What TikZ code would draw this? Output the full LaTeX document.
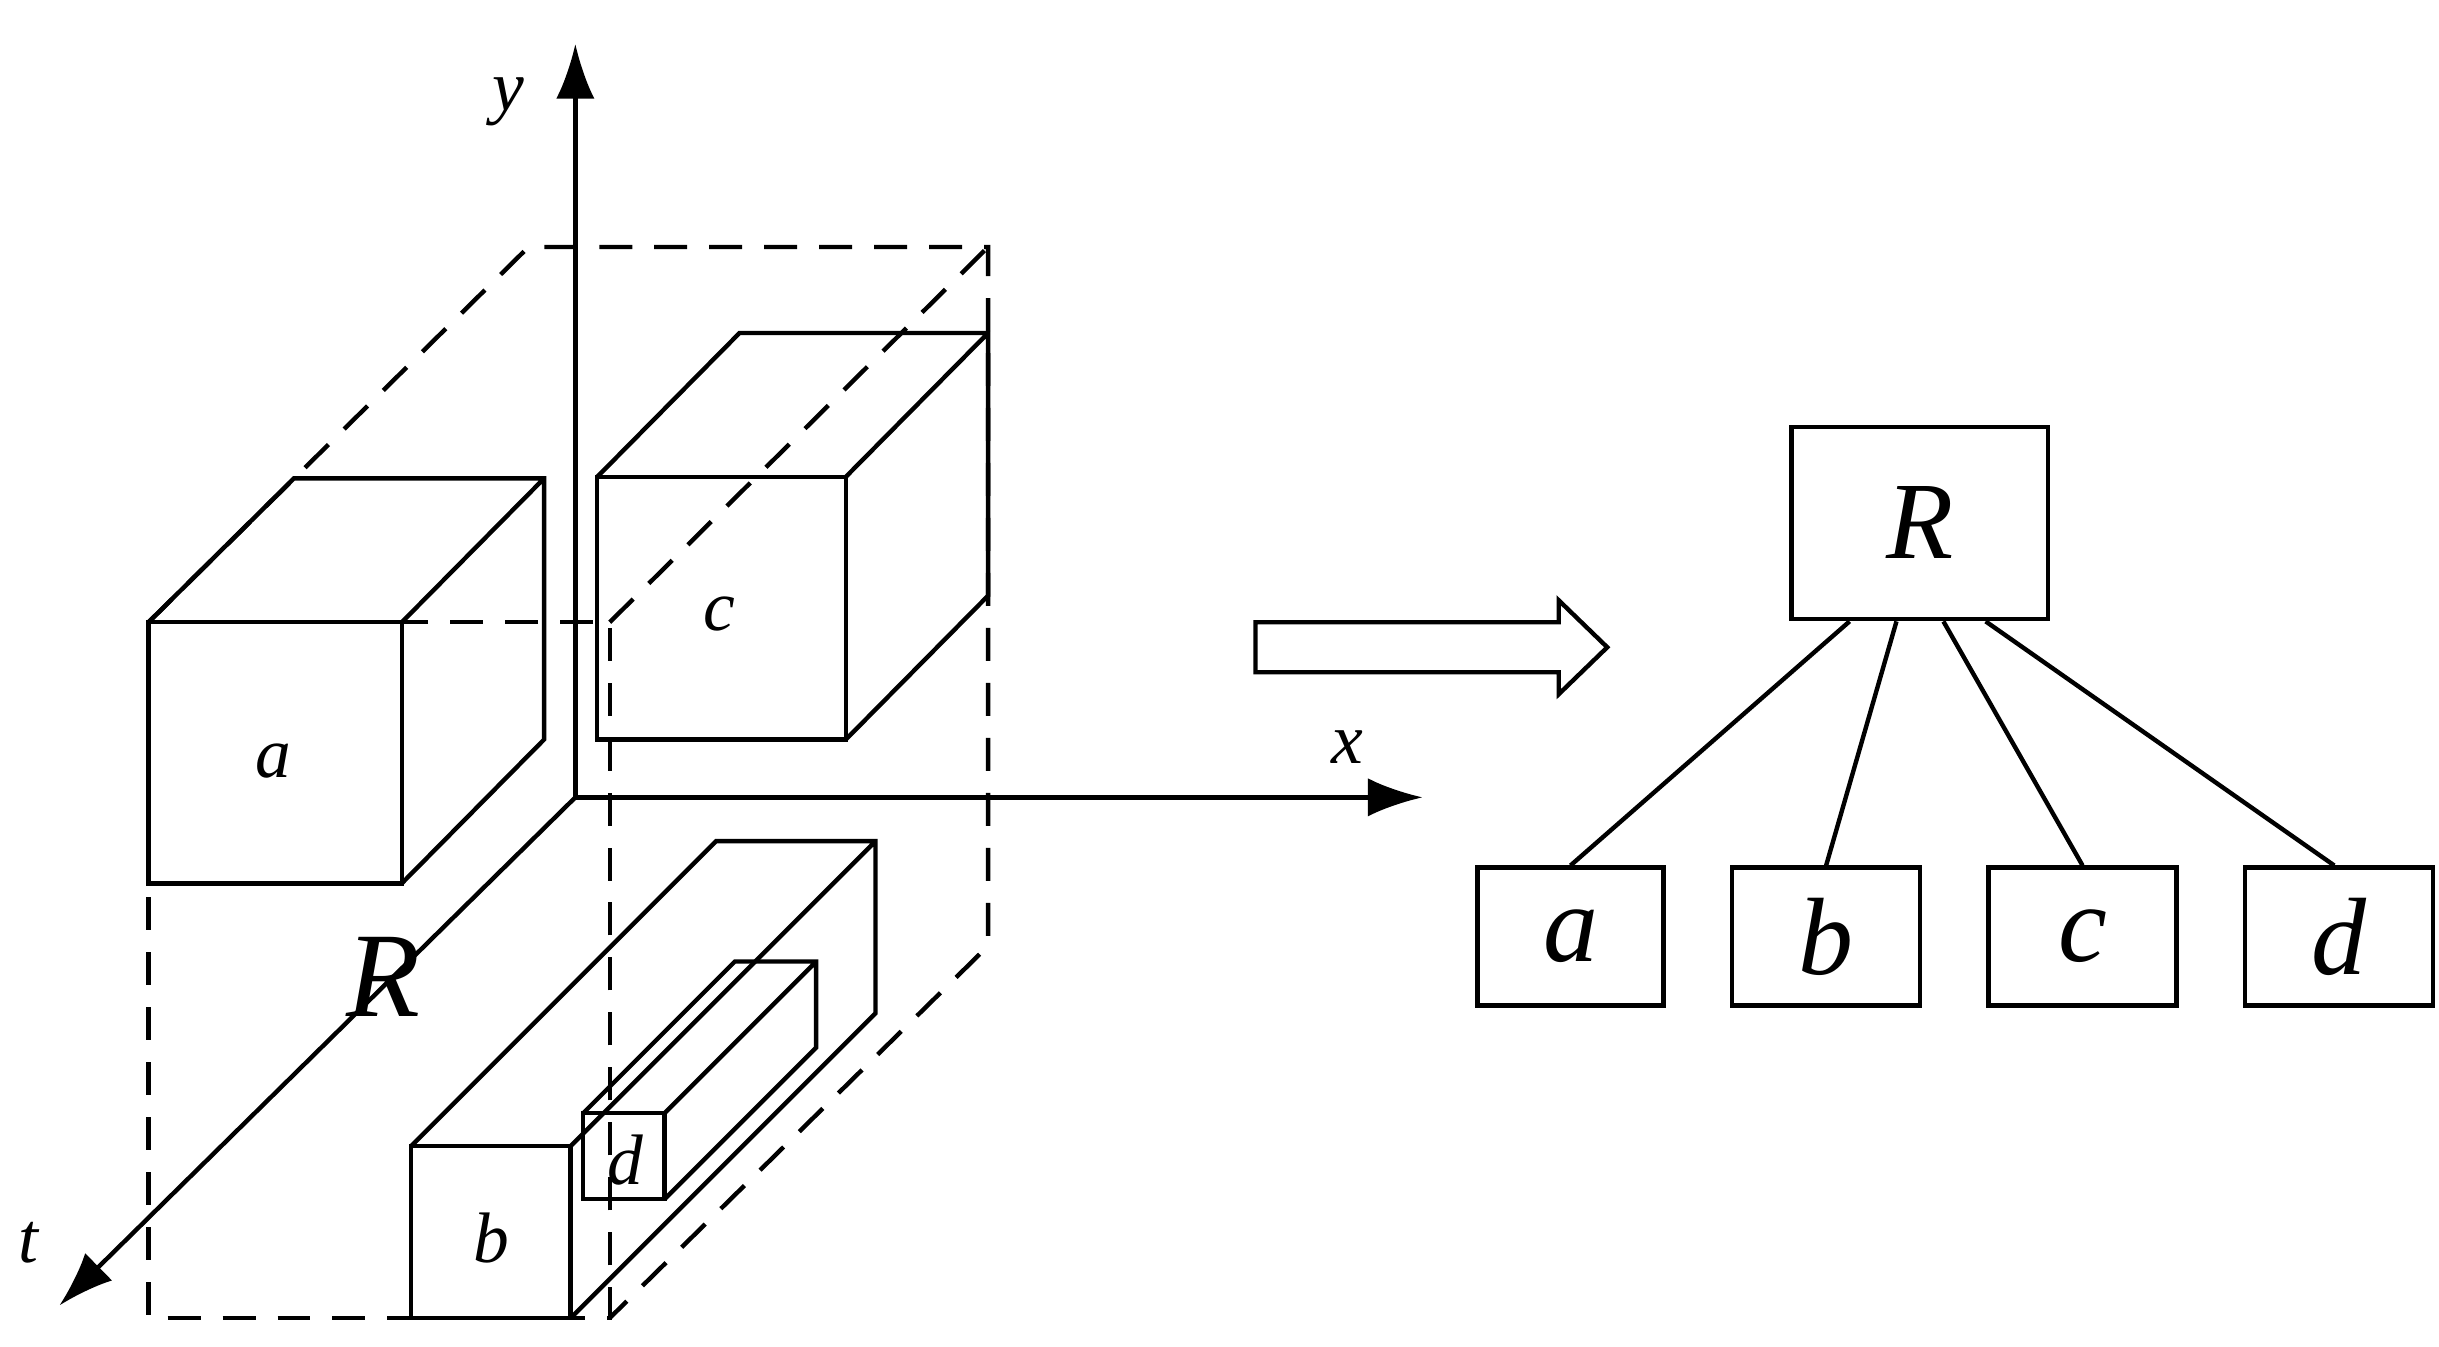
\documentclass[tikz,border=0pt]{standalone}
\usepackage{fontspec}
\setmainfont{Liberation Serif}
\usetikzlibrary{arrows.meta,shapes.arrows}
\begin{document}
\begin{tikzpicture}[x=0.01cm,y=-0.01cm,line width=0.8pt,
  dsh/.style={dash pattern=on 6pt off 4pt},
  sl/.style={font=\fontsize{13}{15}\selectfont\itshape},
  tl/.style={font=\fontsize{20}{24}\selectfont\itshape},
  box/.style={draw,minimum width=3.4cm,minimum height=2.5cm,inner sep=0pt}]
\useasboundingbox (0,0) rectangle (1560,861);
% axes
\coordinate (O) at (368,510);
\coordinate (Y) at (368,28);
\coordinate (X) at (910,510);
\coordinate (T) at (38,835);
\draw[-{Latex[length=10pt,width=7pt]}] (O)--(Y);
\draw[-{Latex[length=10pt,width=7pt]}] (O)--(X);
\draw[-{Latex[length=10pt,width=7pt]}] (O)--(T);
\node[sl] at (325,65) {y};
\node[sl] at (862,478) {x};
\node[sl] at (18,795) {t};
% dashed R box
\draw[dsh] (95,398)--(95,843)--(390,843)--(390,398)--(95,398);
\draw[dsh] (95,398)--(338,158)--(632,158)--(632,605)--(390,843);
\draw[dsh] (390,398)--(632,158);
% box a
\draw[fill=white] (95,398) rectangle (257,565);
\draw (95,398)--(188,306)--(348,306)--(348,473)--(257,565) (257,398)--(348,306);
% box c
\draw (382,305) rectangle (541,473);
\draw (382,305)--(473,213)--(632,213)--(632,381)--(541,473) (541,305)--(632,213);
% box b
\draw (263,733) rectangle (365,843);
\draw (263,733)--(458,538)--(560,538)--(560,648)--(365,843) (365,733)--(560,538);
% box d
\draw (373,712) rectangle (425,767);
\draw (373,712)--(470,615)--(522,615)--(522,670)--(425,767) (425,712)--(522,615);
\node[sl] at (175,487) {a};
\node[sl] at (314,792) {b};
\node[sl] at (460,393) {c};
\node[sl] at (400,742) {d};
\node[font=\fontsize{22}{26}\selectfont\itshape] at (245,625) {R};
% block arrow
\draw (803,398)--(997,398)--(997,384)--(1028,414)--(997,444)--(997,430)--(803,430)--cycle;
% tree
\node[box,minimum width=1.64cm,minimum height=1.23cm,tl] (R) at (1228,334.5) {R};
\node[box,minimum width=1.19cm,minimum height=0.88cm,tl] (a) at (1004.5,599) {a};
\node[box,minimum width=1.2cm,minimum height=0.88cm,tl] (b) at (1168,599) {b};
\node[box,minimum width=1.2cm,minimum height=0.88cm,tl] (c) at (1332,599) {c};
\node[box,minimum width=1.2cm,minimum height=0.88cm,tl] (d) at (1496,599) {d};
\draw ([xshift=-0.45cm]R.south)--([xshift=0cm]a.north);
\draw ([xshift=-0.15cm]R.south)--(b.north);
\draw ([xshift=0.15cm]R.south)--(c.north);
\draw ([xshift=0.42cm]R.south)--([xshift=-0.03cm]d.north);
\end{tikzpicture}
\end{document}
